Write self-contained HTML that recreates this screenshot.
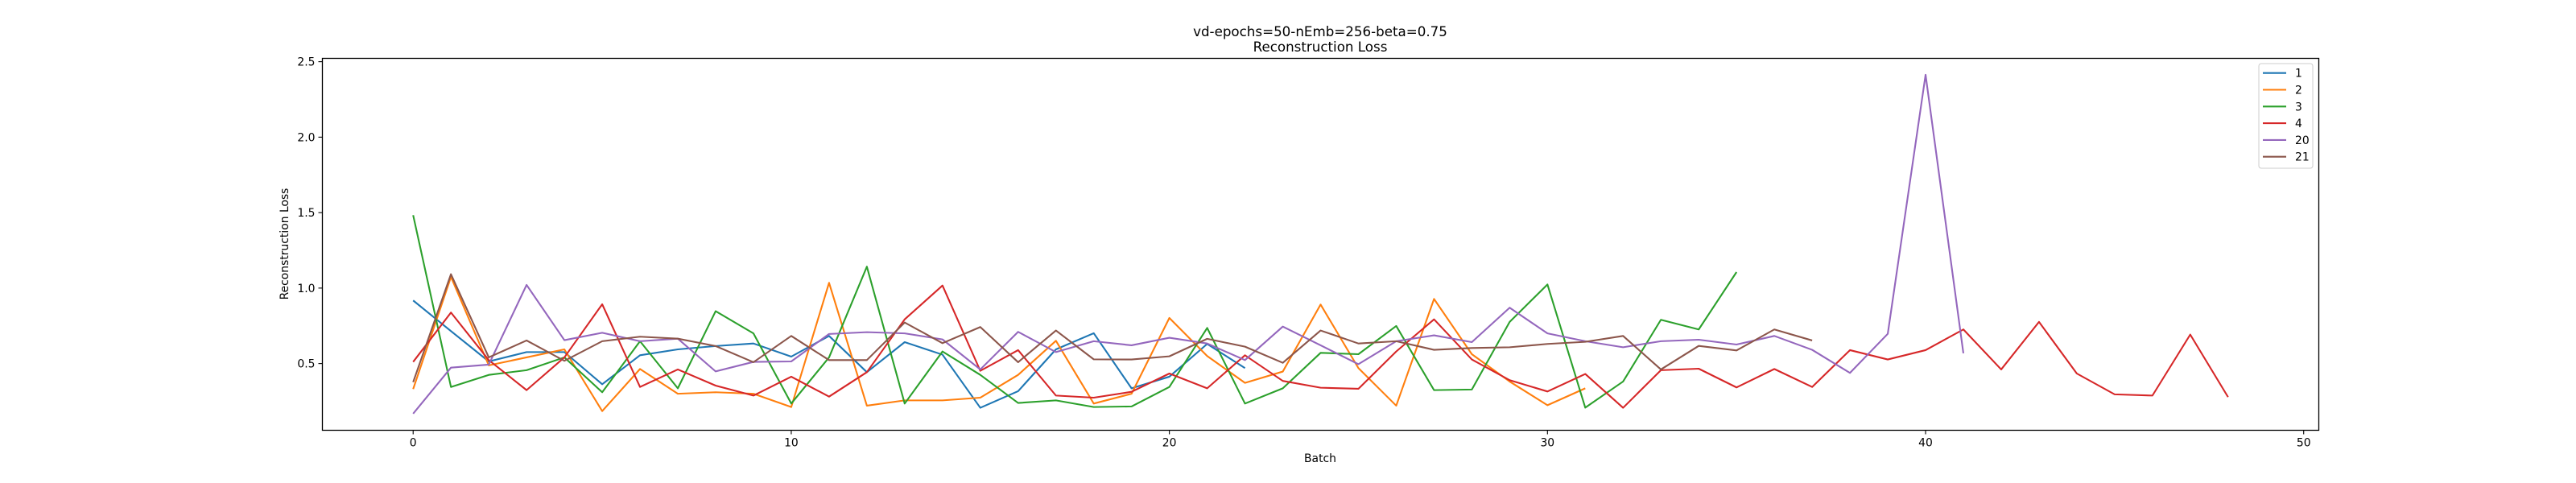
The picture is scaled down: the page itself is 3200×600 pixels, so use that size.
<!DOCTYPE html>
<html><head><meta charset="utf-8"><style>
html,body{margin:0;padding:0;background:#fff;}
svg{display:block;font-family:"DejaVu Sans","Liberation Sans",sans-serif;}
</style></head><body>
<svg id="chart" width="3200" height="600" viewBox="0 0 3200 600" xmlns="http://www.w3.org/2000/svg">
<rect width="3200" height="600" fill="#fff"/>
<text x="1640" y="45" text-anchor="middle" font-size="16.7">vd-epochs=50-nEmb=256-beta=0.75</text>
<text x="1640" y="64" text-anchor="middle" font-size="16.7">Reconstruction Loss</text>
<g id="plot"></g>
<text x="1640" y="574" text-anchor="middle" font-size="13.9">Batch</text>
<text x="0" y="0" transform="translate(358,303) rotate(-90)" text-anchor="middle" font-size="13.9">Reconstruction Loss</text>
</svg>
<script>
const seriesNames = ["1","2","3","4","20","21"];
const seriesColors = ["#1f77b4","#ff7f0e","#2ca02c","#d62728","#9467bd","#8c564b"];
const s1 = [0.918,0.715,0.514,0.576,0.576,0.363,0.555,0.594,0.616,0.633,0.546,0.683,0.443,0.642,0.559,0.207,0.317,0.594,0.701,0.336,0.413,0.63,0.47];
const s2 = [0.331,1.074,0.488,0.541,0.594,0.185,0.464,0.30,0.31,0.30,0.212,1.035,0.221,0.256,0.256,0.274,0.425,0.651,0.235,0.30,0.802,0.55,0.372,0.447,0.891,0.47,0.221,0.928,0.562,0.381,0.224,0.336];
const s3 = [1.483,0.345,0.425,0.456,0.541,0.31,0.648,0.336,0.847,0.70,0.235,0.541,1.142,0.235,0.58,0.425,0.239,0.256,0.212,0.216,0.345,0.736,0.235,0.336,0.571,0.562,0.749,0.324,0.328,0.776,1.024,0.208,0.381,0.79,0.726,1.106];
const s4 = [0.511,0.838,0.523,0.324,0.541,0.893,0.345,0.461,0.354,0.288,0.413,0.281,0.443,0.793,1.017,0.452,0.589,0.288,0.274,0.313,0.434,0.336,0.555,0.385,0.34,0.333,0.58,0.793,0.527,0.39,0.315,0.431,0.207,0.456,0.466,0.342,0.464,0.345,0.589,0.527,0.589,0.726,0.461,0.776,0.434,0.296,0.288,0.692,0.278];
const s20 = [0.168,0.473,0.493,1.021,0.655,0.704,0.648,0.665,0.448,0.511,0.514,0.696,0.708,0.70,0.66,0.461,0.71,0.576,0.648,0.621,0.671,0.633,0.523,0.745,0.621,0.496,0.648,0.687,0.642,0.87,0.70,0.648,0.608,0.648,0.658,0.626,0.683,0.591,0.438,0.697,2.413,0.568];
const s21 = [0.377,1.092,0.541,0.653,0.518,0.648,0.678,0.665,0.616,0.509,0.683,0.523,0.523,0.772,0.635,0.742,0.509,0.719,0.528,0.527,0.548,0.664,0.612,0.505,0.719,0.633,0.648,0.591,0.603,0.608,0.63,0.644,0.683,0.461,0.617,0.587,0.726,0.653];
const xTicks = [0,10,20,30,40,50];
const yTicks = [0.5,1.0,1.5,2.0,2.5];
const yTickLabels = ["0.5","1.0","1.5","2.0","2.5"];

const NS = "http://www.w3.org/2000/svg";
const L=400.5, R=2880.5, T=72.5, B=534.5;
const xMin=-2.40, xMax=50.40, yMin=0.058, yMax=2.522;
function X(v){return L+(v-xMin)/(xMax-xMin)*(R-L);}
function Y(v){return B-(v-yMin)/(yMax-yMin)*(B-T);}
const g=document.getElementById('plot');
function mk(tag,attrs){const e=document.createElementNS(NS,tag);for(const k in attrs)e.setAttribute(k,attrs[k]);return e;}

const all=[s1,s2,s3,s4,s20,s21];
all.forEach((s,si)=>{
  const p=mk('polyline',{points:s.map((v,i)=>X(i).toFixed(2)+','+Y(v).toFixed(2)).join(' '),fill:'none',stroke:seriesColors[si],'stroke-width':2.1,'stroke-linejoin':'round'});
  
  
  g.appendChild(p);
});
const frame=mk('rect',{x:L,y:T,width:R-L,height:B-T,fill:'none',stroke:'#000','stroke-width':1.3});


g.appendChild(frame);
xTicks.forEach(t=>{
  const l=mk('line',{x1:X(t),x2:X(t),y1:B,y2:B+5,stroke:'#000','stroke-width':1.1});
  
  
  g.appendChild(l);
  const tx=mk('text',{x:X(t),y:B+20,'text-anchor':'middle','font-size':13.9});
  tx.textContent=String(t);
  
  
  g.appendChild(tx);
});
yTicks.forEach((t,i)=>{
  const l=mk('line',{x1:L-5,x2:L,y1:Y(t),y2:Y(t),stroke:'#000','stroke-width':1.1});
  
  
  g.appendChild(l);
  const tx=mk('text',{x:L-9,y:Y(t)+5,'text-anchor':'end','font-size':13.9});
  tx.textContent=yTickLabels[i];
  
  
  g.appendChild(tx);
});
const lg=mk('g',{});


g.appendChild(lg);
const lb=mk('rect',{x:2806,y:79,width:67,height:130,rx:3,fill:'#fff','fill-opacity':0.8,stroke:'#ccc','stroke-width':1});


lg.appendChild(lb);
seriesNames.forEach((n,i)=>{
  const y=90.7+i*20.8;
  const l=mk('line',{x1:2811,x2:2840,y1:y,y2:y,stroke:seriesColors[i],'stroke-width':2.1});
  
  
  lg.appendChild(l);
  const tx=mk('text',{x:2851,y:y+5,'font-size':13.9});
  tx.textContent=n;
  
  
  lg.appendChild(tx);
});
</script>
</body></html>
